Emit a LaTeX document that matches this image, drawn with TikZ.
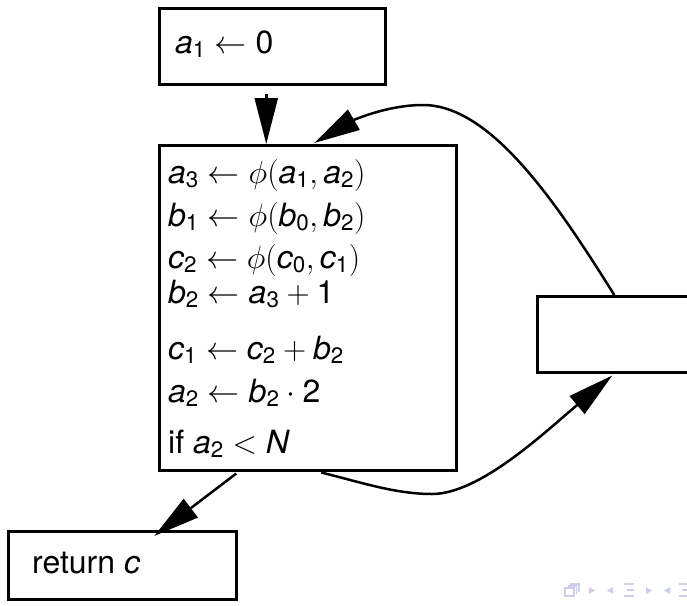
\documentclass[tikz,border=0pt]{standalone}
\usepackage{fix-cm}
\usepackage{amsmath}
\usepackage[no-math]{fontspec}
\setmainfont{TeX Gyre Heros}
\usetikzlibrary{arrows.meta}
\newcommand\vr[2]{\textit{#1}_{\text{#2}}}
\newcommand\vn[1]{\textit{#1}}
\definecolor{navc}{RGB}{205,205,236}
\begin{document}
\begin{tikzpicture}[x=1pt,y=-1pt,
  box/.style={draw, line width=2.5pt, rectangle, inner sep=0pt, anchor=north west},
  lbl/.style={anchor=base west, inner sep=0pt, font=\fontsize{32}{38}\selectfont},
  arr/.style={line width=2.5pt, -{Triangle[length=46pt,width=23pt]}},
  navtri/.style={fill=navc, draw=none},
  navline/.style={draw=navc, line width=1.6pt}]
\useasboundingbox (0,0) rectangle (687,605);
% boxes
\node[box, minimum width=226pt, minimum height=76pt] (init) at (158,7) {};
\node[lbl] (t0) at (175,53) {$\vr{a}{1}\leftarrow\text{0}$};
\node[box, minimum width=297pt, minimum height=325pt] (loop) at (158,144) {};
\node[lbl] (t1) at (168,183) {$\vr{a}{3}\leftarrow\phi(\vr{a}{1},\vr{a}{2})$};
\node[lbl] (t2) at (168,226) {$\vr{b}{1}\leftarrow\phi(\vr{b}{0},\vr{b}{2})$};
\node[lbl] (t3) at (168,268) {$\vr{c}{2}\leftarrow\phi(\vr{c}{0},\vr{c}{1})$};
\node[lbl] (t4) at (168,303) {$\vr{b}{2}\leftarrow\vr{a}{3}+\text{1}$};
\node[lbl] (t5) at (168,359) {$\vr{c}{1}\leftarrow\vr{c}{2}+\vr{b}{2}$};
\node[lbl] (t6) at (168,402) {$\vr{a}{2}\leftarrow\vr{b}{2}\cdot\text{2}$};
\node[lbl] (t7) at (168,453) {if $\vr{a}{2}<\vn{N}$};
\begin{scope}
\clip (0,0) rectangle (687,605);
\node[box, minimum width=154pt, minimum height=76pt] (exit) at (536,295) {};
\end{scope}
\node[box, minimum width=228pt, minimum height=68pt] (ret) at (7,530) {};
\node[lbl] (t8) at (32,573) {return $\vn{c}$};
% connectors
\draw[arr] ([xshift=-6pt,yshift=-8pt]init.south) -- ([xshift=-41.5pt]loop.north);
\draw[arr] ([xshift=-71.5pt,yshift=-2pt]loop.south) -- ([xshift=32pt,yshift=-6pt]ret.north);
\draw[arr] (exit.north) .. controls (555,200) and (490,105) .. (423,105)
  .. controls (385,105) and (350,122) .. ([xshift=6.5pt,yshift=1pt]loop.north);
\draw[arr] ([xshift=13.5pt,yshift=-1pt]loop.south) .. controls (360,482) and (395,494) .. (432,494)
  .. controls (480,494) and (545,432) .. ([xshift=-2pt,yshift=-2pt]exit.south);
% navigation symbols
\draw[navline, line width=1.2pt] (565,588) rectangle (574,596);
\draw[navline, line width=1.2pt] (567.5,586) -- (576.5,586) -- (576.5,594);
\draw[navline, line width=1.2pt] (570,584) -- (579,584) -- (579,592);
\fill[navtri] (589,587) -- (595,590.5) -- (589,594) -- cycle;
\fill[navtri] (613,587) -- (607,590.5) -- (613,594) -- cycle;
\draw[navline] (624,584) -- (634,584);
\draw[navline] (627,590) -- (634,590);
\draw[navline] (624,596) -- (634,596);
\fill[navtri] (646,587) -- (652,590.5) -- (646,594) -- cycle;
\fill[navtri] (670,587) -- (664,590.5) -- (670,594) -- cycle;
\draw[navline] (679,584) -- (687,584);
\draw[navline] (682,590) -- (687,590);
\draw[navline] (679,596) -- (687,596);
\end{tikzpicture}
\end{document}
